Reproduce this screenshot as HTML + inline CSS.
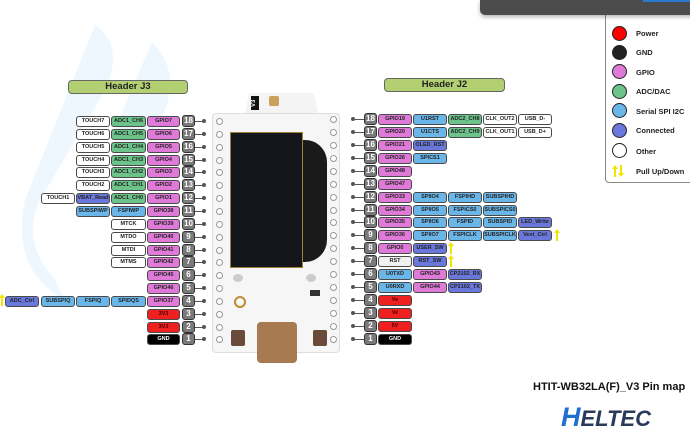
<!DOCTYPE html>
<html><head><meta charset="utf-8">
<style>
*{margin:0;padding:0;box-sizing:border-box}
body{width:690px;height:433px;background:#fff;position:relative;overflow:hidden;font-family:"Liberation Sans",sans-serif}
.b{position:absolute;height:11px;border:1px solid #4a4a4a;border-radius:3px;font-weight:bold;font-size:5.5px;line-height:9px;text-align:center;color:#222;white-space:nowrap;overflow:hidden}
.p{background:#e07ad8}.g{background:#6cc48a}.s{background:#6ab6e8}.c{background:#6a78dc}.w{background:#fff}.r{background:#ee2020;color:#400}.k{background:#000;color:#fff}.x{background:#f0f0f0}
.n{position:absolute;width:13px;height:12px;background:#7a7a7a;border:1px solid #333;border-radius:3px;color:#fff;font-weight:bold;font-size:8px;line-height:10px;text-align:center}
.d{position:absolute;width:4px;height:4px;border-radius:2px;background:#555}
.l{position:absolute;height:1px;width:9px;background:#555}
.pad{position:absolute;width:7px;height:7px;border:1px solid #999;border-radius:50%;background:#fff}
.ar{position:absolute;width:4px;height:12px;}
.ar:before{content:"";position:absolute;left:1px;top:3px;width:2px;height:9px;background:#f2e600}
.ar:after{content:"";position:absolute;left:-1px;top:0;border-left:3px solid transparent;border-right:3px solid transparent;border-bottom:4px solid #f2e600}
.lg{position:absolute;left:612px;width:15px;height:15px;border-radius:50%;border:1px solid #222}
.lt{position:absolute;left:636px;font-size:7.5px;font-weight:bold;color:#222}
</style></head><body>
<svg style="position:absolute;left:0;top:0" width="690" height="433">
<path d="M95 25 Q125 45 105 90 L40 200 Q20 240 55 280 L65 300 Q10 270 25 200 Z" fill="#eef7fd"/>
<path d="M152 42 Q180 70 165 110 L130 170 Q105 150 125 105 Z" fill="#eef7fd"/>
</svg>
<!-- legend -->
<div style="position:absolute;left:605px;top:10px;width:90px;height:173px;border:1px solid #888;border-radius:4px;background:#fff"></div>
<div style="position:absolute;left:480px;top:0;width:215px;height:15px;background:#4b4b4b;border-radius:0 0 0 5px;box-shadow:0 2px 4px rgba(0,0,0,.3)"></div>
<div style="position:absolute;left:643px;top:0;width:50px;height:2px;background:#2a7ad0"></div>
<div class="lg" style="top:26px;background:#f00"></div><div class="lt" style="top:29px">Power</div>
<div class="lg" style="top:45px;background:#222"></div><div class="lt" style="top:48px">GND</div>
<div class="lg" style="top:64px;background:#e07ad8"></div><div class="lt" style="top:68px">GPIO</div>
<div class="lg" style="top:84px;background:#6cc48a"></div><div class="lt" style="top:87px">ADC/DAC</div>
<div class="lg" style="top:103px;background:#6ab6e8"></div><div class="lt" style="top:107px">Serial SPI I2C</div>
<div class="lg" style="top:123px;background:#6a78dc"></div><div class="lt" style="top:126px">Connected</div>
<div class="lg" style="top:143px;background:#fff"></div><div class="lt" style="top:147px">Other</div>
<div class="ar" style="left:613px;top:165px"></div><div class="ar" style="left:619px;top:165px;transform:rotate(180deg)"></div><div class="lt" style="top:167px">Pull Up/Down</div>

<!-- headers -->
<div style="position:absolute;left:68px;top:80px;width:120px;height:14px;background:#b2cf72;border:1px solid #666;border-radius:4px;font-weight:bold;font-size:9.5px;line-height:12px;text-align:center;color:#222">Header J3</div>
<div style="position:absolute;left:384px;top:78px;width:121px;height:14px;background:#b2cf72;border:1px solid #666;border-radius:4px;font-weight:bold;font-size:9.5px;line-height:12px;text-align:center;color:#222">Header J2</div>

<!-- board -->
<div style="position:absolute;left:243px;top:93px;width:77px;height:30px;background:#f4f4f4;clip-path:polygon(8% 0,92% 0,100% 100%,0 100%)"></div>
<div style="position:absolute;left:251px;top:96px;width:8px;height:14px;background:#111;color:#fff;font-size:6px;font-weight:bold;writing-mode:vertical-rl;transform:rotate(180deg);text-align:center">V3</div>
<div style="position:absolute;left:269px;top:96px;width:10px;height:10px;background:#c8a25a;border-radius:2px"></div>
<div style="position:absolute;left:212px;top:113px;width:128px;height:240px;background:#f6f6f6;border:1px solid #ddd;border-radius:4px"></div>
<div style="position:absolute;left:230px;top:132px;width:73px;height:136px;background:#15161c;border:1px solid #a08040"></div>
<div style="position:absolute;left:303px;top:140px;width:24px;height:122px;background:#1a1a1a;border-radius:0 22px 22px 0"></div>
<div style="position:absolute;left:233px;top:274px;width:10px;height:8px;background:#ccc;border-radius:50%"></div>
<div style="position:absolute;left:306px;top:274px;width:10px;height:8px;background:#ccc;border-radius:50%"></div>
<div style="position:absolute;left:234px;top:296px;width:12px;height:12px;border:2px solid #c08a30;border-radius:50%"></div>
<div style="position:absolute;left:257px;top:322px;width:40px;height:41px;background:#a87a52;border-radius:4px"></div>
<div style="position:absolute;left:231px;top:330px;width:14px;height:16px;background:#6a4a3a;border-radius:2px"></div>
<div style="position:absolute;left:313px;top:330px;width:14px;height:16px;background:#6a4a3a;border-radius:2px"></div>
<div style="position:absolute;left:310px;top:290px;width:10px;height:6px;background:#333"></div>

<!-- pads -->
<div class="pad" style="left:216px;top:118px"></div><div class="pad" style="left:216px;top:131px"></div><div class="pad" style="left:216px;top:144px"></div><div class="pad" style="left:216px;top:157px"></div><div class="pad" style="left:216px;top:169px"></div><div class="pad" style="left:216px;top:182px"></div><div class="pad" style="left:216px;top:195px"></div><div class="pad" style="left:216px;top:208px"></div><div class="pad" style="left:216px;top:221px"></div><div class="pad" style="left:216px;top:234px"></div><div class="pad" style="left:216px;top:247px"></div><div class="pad" style="left:216px;top:259px"></div><div class="pad" style="left:216px;top:272px"></div><div class="pad" style="left:216px;top:285px"></div><div class="pad" style="left:216px;top:298px"></div><div class="pad" style="left:216px;top:311px"></div><div class="pad" style="left:216px;top:324px"></div><div class="pad" style="left:216px;top:336px"></div>
<div class="pad" style="left:330px;top:116px"></div><div class="pad" style="left:330px;top:129px"></div><div class="pad" style="left:330px;top:142px"></div><div class="pad" style="left:330px;top:155px"></div><div class="pad" style="left:330px;top:168px"></div><div class="pad" style="left:330px;top:181px"></div><div class="pad" style="left:330px;top:194px"></div><div class="pad" style="left:330px;top:207px"></div><div class="pad" style="left:330px;top:219px"></div><div class="pad" style="left:330px;top:232px"></div><div class="pad" style="left:330px;top:245px"></div><div class="pad" style="left:330px;top:258px"></div><div class="pad" style="left:330px;top:271px"></div><div class="pad" style="left:330px;top:284px"></div><div class="pad" style="left:330px;top:297px"></div><div class="pad" style="left:330px;top:310px"></div><div class="pad" style="left:330px;top:323px"></div><div class="pad" style="left:330px;top:336px"></div>

<!-- LEFT rows -->
<div class="n" style="left:182px;top:115px">18</div><div class="l" style="left:195px;top:121px"></div><div class="d" style="left:202px;top:119px"></div>
<div class="b p" style="left:147px;top:116px;width:33px">GPIO7</div><div class="b g" style="left:111px;top:116px;width:35px">ADC1_CH6</div><div class="b w" style="left:76px;top:116px;width:34px">TOUCH7</div>
<div class="n" style="left:182px;top:128px">17</div><div class="l" style="left:195px;top:134px"></div><div class="d" style="left:202px;top:132px"></div>
<div class="b p" style="left:147px;top:129px;width:33px">GPIO6</div><div class="b g" style="left:111px;top:129px;width:35px">ADC1_CH5</div><div class="b w" style="left:76px;top:129px;width:34px">TOUCH6</div>
<div class="n" style="left:182px;top:141px">16</div><div class="l" style="left:195px;top:147px"></div><div class="d" style="left:202px;top:145px"></div>
<div class="b p" style="left:147px;top:142px;width:33px">GPIO5</div><div class="b g" style="left:111px;top:142px;width:35px">ADC1_CH4</div><div class="b w" style="left:76px;top:142px;width:34px">TOUCH5</div>
<div class="n" style="left:182px;top:154px">15</div><div class="l" style="left:195px;top:160px"></div><div class="d" style="left:202px;top:158px"></div>
<div class="b p" style="left:147px;top:155px;width:33px">GPIO4</div><div class="b g" style="left:111px;top:155px;width:35px">ADC1_CH3</div><div class="b w" style="left:76px;top:155px;width:34px">TOUCH4</div>
<div class="n" style="left:182px;top:166px">14</div><div class="l" style="left:195px;top:172px"></div><div class="d" style="left:202px;top:170px"></div>
<div class="b p" style="left:147px;top:167px;width:33px">GPIO3</div><div class="b g" style="left:111px;top:167px;width:35px">ADC1_CH2</div><div class="b w" style="left:76px;top:167px;width:34px">TOUCH3</div>
<div class="n" style="left:182px;top:179px">13</div><div class="l" style="left:195px;top:185px"></div><div class="d" style="left:202px;top:183px"></div>
<div class="b p" style="left:147px;top:180px;width:33px">GPIO2</div><div class="b g" style="left:111px;top:180px;width:35px">ADC1_CH1</div><div class="b w" style="left:76px;top:180px;width:34px">TOUCH2</div>
<div class="n" style="left:182px;top:192px">12</div><div class="l" style="left:195px;top:198px"></div><div class="d" style="left:202px;top:196px"></div>
<div class="b p" style="left:147px;top:193px;width:33px">GPIO1</div><div class="b g" style="left:111px;top:193px;width:35px">ADC1_CH0</div><div class="b c" style="left:76px;top:193px;width:34px">VBAT_Read</div><div class="b w" style="left:41px;top:193px;width:34px">TOUCH1</div>
<div class="n" style="left:182px;top:205px">11</div><div class="l" style="left:195px;top:211px"></div><div class="d" style="left:202px;top:209px"></div>
<div class="b p" style="left:147px;top:206px;width:33px">GPIO38</div><div class="b s" style="left:111px;top:206px;width:35px">FSPIWP</div><div class="b s" style="left:76px;top:206px;width:34px">SUBSPIWP</div>
<div class="n" style="left:182px;top:218px">10</div><div class="l" style="left:195px;top:224px"></div><div class="d" style="left:202px;top:222px"></div>
<div class="b p" style="left:147px;top:219px;width:33px">GPIO39</div><div class="b w" style="left:111px;top:219px;width:35px">MTCK</div>
<div class="n" style="left:182px;top:231px">9</div><div class="l" style="left:195px;top:237px"></div><div class="d" style="left:202px;top:235px"></div>
<div class="b p" style="left:147px;top:232px;width:33px">GPIO40</div><div class="b w" style="left:111px;top:232px;width:35px">MTDO</div>
<div class="n" style="left:182px;top:244px">8</div><div class="l" style="left:195px;top:250px"></div><div class="d" style="left:202px;top:248px"></div>
<div class="b p" style="left:147px;top:245px;width:33px">GPIO41</div><div class="b w" style="left:111px;top:245px;width:35px">MTDI</div>
<div class="n" style="left:182px;top:256px">7</div><div class="l" style="left:195px;top:262px"></div><div class="d" style="left:202px;top:260px"></div>
<div class="b p" style="left:147px;top:257px;width:33px">GPIO42</div><div class="b w" style="left:111px;top:257px;width:35px">MTMS</div>
<div class="n" style="left:182px;top:269px">6</div><div class="l" style="left:195px;top:275px"></div><div class="d" style="left:202px;top:273px"></div>
<div class="b p" style="left:147px;top:270px;width:33px">GPIO45</div>
<div class="n" style="left:182px;top:282px">5</div><div class="l" style="left:195px;top:288px"></div><div class="d" style="left:202px;top:286px"></div>
<div class="b p" style="left:147px;top:283px;width:33px">GPIO46</div>
<div class="n" style="left:182px;top:295px">4</div><div class="l" style="left:195px;top:301px"></div><div class="d" style="left:202px;top:299px"></div>
<div class="b p" style="left:147px;top:296px;width:33px">GPIO37</div><div class="b s" style="left:111px;top:296px;width:35px">SPIDQS</div><div class="b s" style="left:76px;top:296px;width:34px">FSPIQ</div><div class="b s" style="left:41px;top:296px;width:34px">SUBSPIQ</div><div class="b c" style="left:5px;top:296px;width:34px">ADC_Ctrl</div>
<div class="ar" style="left:0px;top:294px"></div>
<div class="n" style="left:182px;top:308px">3</div><div class="l" style="left:195px;top:314px"></div><div class="d" style="left:202px;top:312px"></div>
<div class="b r" style="left:147px;top:309px;width:33px">3V3</div>
<div class="n" style="left:182px;top:321px">2</div><div class="l" style="left:195px;top:327px"></div><div class="d" style="left:202px;top:325px"></div>
<div class="b r" style="left:147px;top:322px;width:33px">3V3</div>
<div class="n" style="left:182px;top:333px">1</div><div class="l" style="left:195px;top:339px"></div><div class="d" style="left:202px;top:337px"></div>
<div class="b k" style="left:147px;top:334px;width:33px">GND</div>

<!-- RIGHT rows -->
<div class="d" style="left:351px;top:117px"></div><div class="l" style="left:355px;top:119px"></div><div class="n" style="left:364px;top:113px">18</div>
<div class="b p" style="left:378px;top:114px;width:34px">GPIO19</div><div class="b s" style="left:413px;top:114px;width:34px">U1RST</div><div class="b g" style="left:448px;top:114px;width:34px">ADC2_CH8</div><div class="b w" style="left:483px;top:114px;width:34px">CLK_OUT2</div><div class="b w" style="left:518px;top:114px;width:34px">USB_D-</div>
<div class="d" style="left:351px;top:130px"></div><div class="l" style="left:355px;top:132px"></div><div class="n" style="left:364px;top:126px">17</div>
<div class="b p" style="left:378px;top:127px;width:34px">GPIO20</div><div class="b s" style="left:413px;top:127px;width:34px">U1CTS</div><div class="b g" style="left:448px;top:127px;width:34px">ADC2_CH9</div><div class="b w" style="left:483px;top:127px;width:34px">CLK_OUT1</div><div class="b w" style="left:518px;top:127px;width:34px">USB_D+</div>
<div class="d" style="left:351px;top:143px"></div><div class="l" style="left:355px;top:145px"></div><div class="n" style="left:364px;top:139px">16</div>
<div class="b p" style="left:378px;top:140px;width:34px">GPIO21</div><div class="b c" style="left:413px;top:140px;width:34px">OLED_RST</div>
<div class="d" style="left:351px;top:156px"></div><div class="l" style="left:355px;top:158px"></div><div class="n" style="left:364px;top:152px">15</div>
<div class="b p" style="left:378px;top:153px;width:34px">GPIO26</div><div class="b s" style="left:413px;top:153px;width:34px">SPICS1</div>
<div class="d" style="left:351px;top:169px"></div><div class="l" style="left:355px;top:171px"></div><div class="n" style="left:364px;top:165px">14</div>
<div class="b p" style="left:378px;top:166px;width:34px">GPIO48</div>
<div class="d" style="left:351px;top:182px"></div><div class="l" style="left:355px;top:184px"></div><div class="n" style="left:364px;top:178px">13</div>
<div class="b p" style="left:378px;top:179px;width:34px">GPIO47</div>
<div class="d" style="left:351px;top:195px"></div><div class="l" style="left:355px;top:197px"></div><div class="n" style="left:364px;top:191px">12</div>
<div class="b p" style="left:378px;top:192px;width:34px">GPIO33</div><div class="b s" style="left:413px;top:192px;width:34px">SPIIO4</div><div class="b s" style="left:448px;top:192px;width:34px">FSPIHD</div><div class="b s" style="left:483px;top:192px;width:34px">SUBSPIHD</div>
<div class="d" style="left:351px;top:208px"></div><div class="l" style="left:355px;top:210px"></div><div class="n" style="left:364px;top:204px">11</div>
<div class="b p" style="left:378px;top:205px;width:34px">GPIO34</div><div class="b s" style="left:413px;top:205px;width:34px">SPIIO5</div><div class="b s" style="left:448px;top:205px;width:34px">FSPICS0</div><div class="b s" style="left:483px;top:205px;width:34px">SUBSPICS0</div>
<div class="d" style="left:351px;top:220px"></div><div class="l" style="left:355px;top:222px"></div><div class="n" style="left:364px;top:216px">10</div>
<div class="b p" style="left:378px;top:217px;width:34px">GPIO35</div><div class="b s" style="left:413px;top:217px;width:34px">SPIIO6</div><div class="b s" style="left:448px;top:217px;width:34px">FSPID</div><div class="b s" style="left:483px;top:217px;width:34px">SUBSPID</div><div class="b c" style="left:518px;top:217px;width:34px">LED_Write</div>
<div class="d" style="left:351px;top:233px"></div><div class="l" style="left:355px;top:235px"></div><div class="n" style="left:364px;top:229px">9</div>
<div class="b p" style="left:378px;top:230px;width:34px">GPIO36</div><div class="b s" style="left:413px;top:230px;width:34px">SPIIO7</div><div class="b s" style="left:448px;top:230px;width:34px">FSPICLK</div><div class="b s" style="left:483px;top:230px;width:34px">SUBSPICLK</div><div class="b c" style="left:518px;top:230px;width:34px">Vext_Ctrl</div>
<div class="ar" style="left:555px;top:229px"></div>
<div class="d" style="left:351px;top:246px"></div><div class="l" style="left:355px;top:248px"></div><div class="n" style="left:364px;top:242px">8</div>
<div class="b p" style="left:378px;top:243px;width:34px">GPIO0</div><div class="b c" style="left:413px;top:243px;width:34px">USER_SW</div>
<div class="ar" style="left:449px;top:242px"></div>
<div class="d" style="left:351px;top:259px"></div><div class="l" style="left:355px;top:261px"></div><div class="n" style="left:364px;top:255px">7</div>
<div class="b x" style="left:378px;top:256px;width:34px">RST</div><div class="b c" style="left:413px;top:256px;width:34px">RST_SW</div>
<div class="ar" style="left:449px;top:255px"></div>
<div class="d" style="left:351px;top:272px"></div><div class="l" style="left:355px;top:274px"></div><div class="n" style="left:364px;top:268px">6</div>
<div class="b s" style="left:378px;top:269px;width:34px">U0TXD</div><div class="b p" style="left:413px;top:269px;width:34px">GPIO43</div><div class="b c" style="left:448px;top:269px;width:34px">CP2102_RX</div>
<div class="d" style="left:351px;top:285px"></div><div class="l" style="left:355px;top:287px"></div><div class="n" style="left:364px;top:281px">5</div>
<div class="b s" style="left:378px;top:282px;width:34px">U0RXD</div><div class="b p" style="left:413px;top:282px;width:34px">GPIO44</div><div class="b c" style="left:448px;top:282px;width:34px">CP2102_TX</div>
<div class="d" style="left:351px;top:298px"></div><div class="l" style="left:355px;top:300px"></div><div class="n" style="left:364px;top:294px">4</div>
<div class="b r" style="left:378px;top:295px;width:34px">Ve</div>
<div class="d" style="left:351px;top:311px"></div><div class="l" style="left:355px;top:313px"></div><div class="n" style="left:364px;top:307px">3</div>
<div class="b r" style="left:378px;top:308px;width:34px">Ve</div>
<div class="d" style="left:351px;top:324px"></div><div class="l" style="left:355px;top:326px"></div><div class="n" style="left:364px;top:320px">2</div>
<div class="b r" style="left:378px;top:321px;width:34px">5V</div>
<div class="d" style="left:351px;top:337px"></div><div class="l" style="left:355px;top:339px"></div><div class="n" style="left:364px;top:333px">1</div>
<div class="b k" style="left:378px;top:334px;width:34px">GND</div>

<!-- title & logo -->
<div style="position:absolute;left:533px;top:381px;font-size:11px;font-weight:bold;color:#111;white-space:nowrap">HTIT-WB32LA(F)_V3 Pin map</div>
<div style="position:absolute;left:561px;top:404px;font-size:22px;font-weight:bold;font-style:italic;white-space:nowrap;line-height:26px"><span style="color:#1e6fd0;font-size:27px">H</span><span style="color:#2a3a5a">ELTEC</span></div>
</body></html>
